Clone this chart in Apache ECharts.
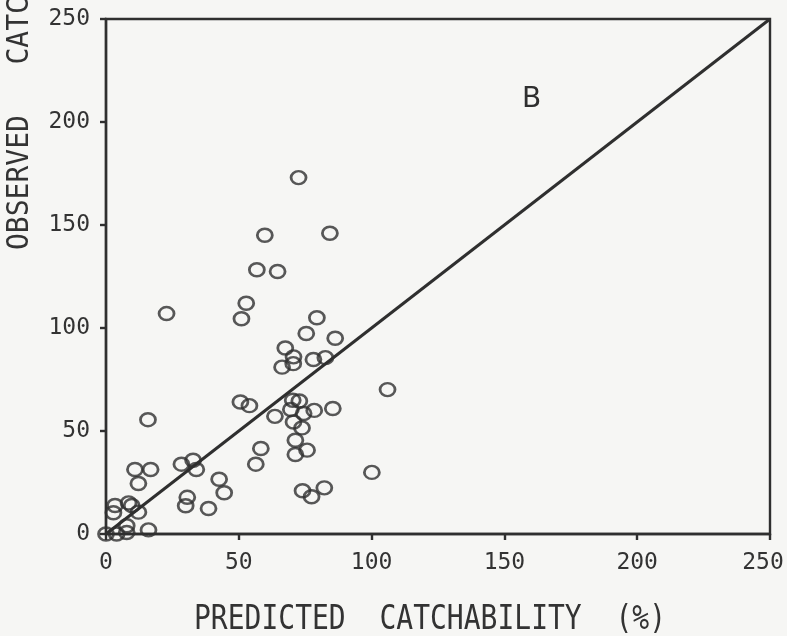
<!DOCTYPE html>
<html>
<head>
<meta charset="utf-8">
<script src="https://cdn.jsdelivr.net/npm/echarts@6/dist/echarts.min.js"></script>
<style>
  html, body { margin: 0; padding: 0; background: #f6f6f4; }
  #chart { width: 787px; height: 636px; }
</style>
</head>
<body>
<div id="chart"></div>
<script>
// Predicted vs observed catchability (%), one circle per station
const predicted = [
  22.8, 51.0, 52.8, 72.5, 59.8, 84.3, 56.8, 64.6,
  79.4, 75.4, 86.3, 67.5, 70.6, 66.3, 70.5, 78.1, 82.6,
  106.0, 50.6, 54.0, 63.6, 70.3, 72.8, 69.6, 74.4, 78.4, 85.4,
  70.6, 73.8, 71.3, 75.7, 71.3, 58.3, 56.4, 100.1, 74.0, 77.4, 82.2,
  15.8, 10.9, 16.8, 12.2, 28.4, 32.8, 34.0, 42.6, 44.5, 30.6, 30.0, 38.6,
  3.4, 2.8, 8.5, 9.7, 12.2, 0.0, 4.0, 7.8, 7.8, 16.0
];
const observed = [
  107.0, 104.5, 112.0, 173.0, 145.0, 146.0, 128.3, 127.4,
  105.0, 97.3, 95.0, 90.3, 86.0, 81.0, 82.7, 84.7, 85.6,
  70.1, 64.1, 62.3, 57.1, 64.9, 64.6, 60.4, 58.5, 60.0, 60.9,
  54.4, 51.5, 45.5, 40.7, 38.6, 41.5, 33.9, 29.9, 21.0, 18.1, 22.4,
  55.5, 31.3, 31.3, 24.5, 33.9, 35.8, 31.3, 26.6, 20.0, 17.8, 13.7, 12.4,
  13.8, 10.3, 15.1, 13.8, 10.6, 0.0, 0.0, 0.7, 4.0, 2.0
];
// 1:1 reference line end points
const oneToOne = [0, 250];
const tickLabels = ['0', '50', '100', '150', '200', '250'];

const ink = '#2f2f2f';
const font = 'DejaVu Sans Mono';

const points = predicted.map((p, i) => [p, observed[i]]);
const diagonal = oneToOne.map(v => [v, v]);

const chart = echarts.init(document.getElementById('chart'), null, { renderer: 'canvas' });

const labelStyle = {
  color: '#333333',
  fontFamily: font,
  fontSize: 23
};

const axisCommon = {
  type: 'value',
  min: 0,
  max: 250,
  interval: 50,
  splitLine: { show: false },
  axisLine: { show: true, onZero: false, lineStyle: { color: ink, width: 2.4 } },
  axisTick: { show: true, inside: false, length: 6, lineStyle: { color: ink, width: 2.4 } },
  axisLabel: Object.assign({}, labelStyle, {
    formatter: v => tickLabels[Math.round(v / 50)]
  })
};

chart.setOption({
  backgroundColor: '#f6f6f4',
  animation: false,
  grid: {
    left: 106, right: 17, top: 19, bottom: 102,
    outerBoundsMode: 'none',
    containLabel: false,
    show: true, borderColor: ink, borderWidth: 2.4, backgroundColor: 'transparent'
  },
  xAxis: Object.assign({}, axisCommon, {
    axisLabel: Object.assign({}, labelStyle, {
      margin: 18,
      // the last label is nudged left so it stays inside the page
      formatter: (v, i) => i === tickLabels.length - 1 ? '{last|' + tickLabels[i] + '}' : tickLabels[i],
      rich: { last: Object.assign({}, labelStyle, { padding: [0, 14, 0, 0] }) }
    })
  }),
  yAxis: Object.assign({}, axisCommon, {
    axisLabel: Object.assign({}, axisCommon.axisLabel, { margin: 16 })
  }),
  graphic: [
    {
      type: 'text',
      left: 194, top: 603,
      scaleY: 1.2,
      style: { text: 'PREDICTED  CATCHABILITY  (%)', font: '28px "DejaVu Sans Mono"', fill: '#333333' }
    },
    {
      type: 'text',
      x: 5, y: 250,
      rotation: Math.PI / 2,
      scaleY: 1.1,
      style: { text: 'OBSERVED   CATCHABILITY   (%)', font: '28px "DejaVu Sans Mono"', fill: '#333333', textVerticalAlign: 'top' }
    },
    {
      type: 'text',
      left: 522, top: 86,
      style: { text: 'B', font: '28px "DejaVu Sans"', fill: ink }
    }
  ],
  series: [
    {
      type: 'line',
      data: diagonal,
      symbol: 'none',
      lineStyle: { color: ink, width: 3 },
      silent: true,
      z: 2
    },
    {
      type: 'scatter',
      data: points,
      symbol: 'circle',
      symbolSize: [15, 13],
      itemStyle: { color: 'rgba(0,0,0,0)', borderColor: ink, borderWidth: 2.6 },
      z: 3
    }
  ]
});
</script>
</body>
</html>
